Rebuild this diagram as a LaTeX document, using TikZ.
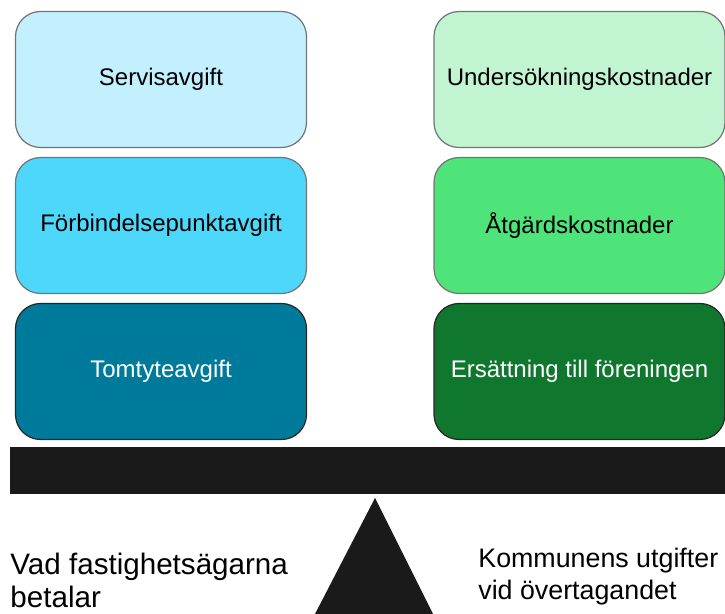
\documentclass[tikz,border=0pt]{standalone}
\usepackage{fontspec}
\setmainfont{Liberation Sans}
\definecolor{servis}{HTML}{C3F0FF}
\definecolor{forbindelse}{HTML}{4DD8FB}
\definecolor{tomtyte}{HTML}{007A9A}
\definecolor{undersokning}{HTML}{C1F4D0}
\definecolor{atgard}{HTML}{4EE47A}
\definecolor{ersattning}{HTML}{10782E}
\definecolor{balk}{HTML}{1A1A1A}
\begin{document}
\begin{tikzpicture}[x=0.5pt, y=-0.5pt,
        box/.style={rectangle, rounded corners=12.5pt, draw=black!60, line width=0.6pt,
            minimum width=145.5pt, minimum height=68pt, inner sep=2pt,
            font=\fontsize{12}{14}\selectfont},
        sidetext/.style={anchor=north west, align=left, inner sep=0pt}
    ]
        \useasboundingbox (0,0) rectangle (725,614);

        % Vänster kolumn (fastighetsägarna)
        \foreach \r/\y/\c/\tc/\dc/\t in {1/79.5/servis/black/black!55/Servisavgift,
                                         2/225.5/forbindelse/black/black!55/Förbindelsepunktavgift,
                                         3/371.5/tomtyte/white/black!85/Tomtyteavgift}
            \node[box, fill=\c, text=\tc, draw=\dc] (L\r) at (161,\y) {\t};

        % Höger kolumn (kommunen)
        \foreach \r/\y/\c/\tc/\dc/\t in {1/79.5/undersokning/black/black!55/Undersökningskostnader,
                                         2/225.5/atgard/black/black!55/Åtgärdskostnader,
                                         3/371.5/ersattning/white/black!85/Ersättning till föreningen}
            \node[box, fill=\c, text=\tc, draw=\dc] (R\r) at (579.5,\y) {\t};

        % Våg
        \fill[balk] (10,447) rectangle (725,494);
        \fill[balk] (375,498) -- (315,614) -- (433,614) -- cycle;

        % Texter
        \node[sidetext, font=\fontsize{14.8}{16.5}\selectfont] (betalar) at (10,553) {Vad fastighetsägarna\\betalar};
        \node[sidetext, font=\fontsize{13.4}{16}\selectfont] (utgifter) at (478,548) {Kommunens utgifter\\vid övertagandet};

    \end{tikzpicture}
\end{document}
